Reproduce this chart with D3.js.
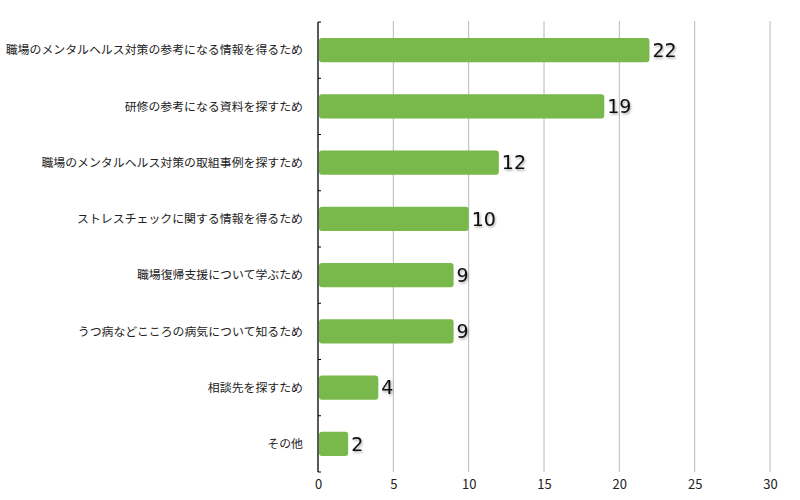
<!DOCTYPE html>
<html><head><meta charset="utf-8">
<script src="https://cdn.jsdelivr.net/npm/d3@7"></script>
<style>body{margin:0;background:#fff}</style>
</head><body>
<svg id="c" width="800" height="500"></svg>
<script>
const categories = [
  "職場のメンタルヘルス対策の参考になる情報を得るため",
  "研修の参考になる資料を探すため",
  "職場のメンタルヘルス対策の取組事例を探すため",
  "ストレスチェックに関する情報を得るため",
  "職場復帰支援について学ぶため",
  "うつ病などこころの病気について知るため",
  "相談先を探すため",
  "その他"
];
const values = [22, 19, 12, 10, 9, 9, 4, 2];
const xTicks = [0, 5, 10, 15, 20, 25, 30];

const svg = d3.select("#c");
const m = {left: 318, right: 30, top: 22, bottom: 28};
const W = 800, H = 500;
const x = d3.scaleLinear().domain([0, 30]).range([m.left, W - m.right]);
const y = d3.scaleBand().domain(categories).range([m.top, H - m.bottom]).paddingInner(0.57).paddingOuter(0.285);
const yb = d3.scaleBand().domain(categories).range([m.top, H - m.bottom]);

const defs = svg.append("defs");
const f = defs.append("filter").attr("id","sh").attr("x","-20%").attr("y","-20%").attr("width","150%").attr("height","150%");
f.append("feDropShadow").attr("dx",1).attr("dy",1.5).attr("stdDeviation",1).attr("flood-color","#000").attr("flood-opacity",0.35);

// grid
svg.append("g").selectAll("line").data(xTicks.slice(1)).join("line")
  .attr("x1", d => x(d)).attr("x2", d => x(d))
  .attr("y1", m.top - 1).attr("y2", H - m.bottom)
  .attr("stroke", "#b8b8b8").attr("stroke-width", 1);

// bars
svg.append("g").selectAll("rect").data(values).join("rect")
  .attr("x", x(0) + 1)
  .attr("y", (d, i) => y(categories[i]))
  .attr("width", d => x(d) - x(0) - 1)
  .attr("height", y.bandwidth())
  .attr("rx", 3).attr("fill", "#79b84a");

// value labels
svg.append("g").selectAll("text").data(values).join("text")
  .attr("x", d => x(d) + 3)
  .attr("y", (d, i) => y(categories[i]) + y.bandwidth() / 2)
  .attr("dy", "0.36em")
  .attr("font-family", "'DejaVu Sans', sans-serif")
  .attr("font-size", 19)
  .attr("fill", "#111")
  .attr("filter", "url(#sh)")
  .text(d => d);

// x axis
const xa = svg.append("g").attr("transform", `translate(0,${H - m.bottom})`)
  .call(d3.axisBottom(x).tickValues(xTicks).tickSize(0).tickPadding(8));
xa.select(".domain").remove();
xa.selectAll("text").attr("font-family", "'Noto Sans CJK JP', sans-serif").attr("font-size", 13).attr("fill", "#222");

// y axis
const ya = svg.append("g").attr("transform", `translate(${m.left},0)`);
ya.append("line").attr("x1", 0).attr("x2", 0).attr("y1", m.top).attr("y2", H - m.bottom).attr("stroke", "#000").attr("stroke-width", 1.3);
ya.selectAll("line.t").data(categories).join("line").attr("class", "t")
  .attr("x1", 0).attr("x2", 3)
  .attr("y1", d => yb(d)).attr("y2", d => yb(d))
  .attr("stroke", "#000");
ya.append("line").attr("x1", 0).attr("x2", 3).attr("y1", H - m.bottom).attr("y2", H - m.bottom).attr("stroke", "#000");
ya.selectAll("text").data(categories).join("text")
  .attr("x", -15)
  .attr("y", d => y(d) + y.bandwidth() / 2)
  .attr("dy", "0.35em")
  .attr("text-anchor", "end")
  .attr("font-family", "'Noto Sans CJK JP', sans-serif")
  .attr("font-size", 11.9)
  .attr("fill", "#222")
  .text(d => d);
</script>
</body></html>
